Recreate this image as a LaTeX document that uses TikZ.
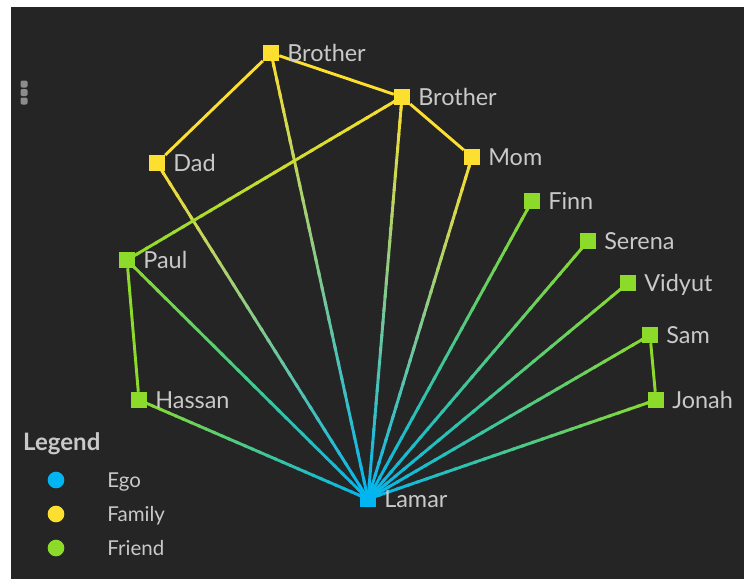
\documentclass[tikz,border=0pt]{standalone}
\usepackage{fontspec}
\setmainfont{Lato}
\usepackage{tikz}
\usetikzlibrary{positioning,calc}
\definecolor{panel}{HTML}{252525}
\definecolor{egoblue}{HTML}{00B5F1}
\definecolor{famyel}{HTML}{FDDF2F}
\definecolor{frdgreen}{HTML}{8CDB2B}
\definecolor{txt}{HTML}{C9C9C9}
\definecolor{knob}{HTML}{8C8C8C}
\pgfdeclarelayer{back}
\pgfdeclarelayer{under}
\pgfsetlayers{back,under,main}

% edge that fades from one colour to the other
\newcommand{\gradedge}[4]{%
  \foreach \k in {1,...,30}{%
    \pgfmathsetmacro{\ta}{(\k-1)/30}%
    \pgfmathsetmacro{\tb}{min(\k/30+0.01,1)}%
    \pgfmathsetmacro{\pc}{100-100*(\k-0.5)/30}%
    \draw[edge,color=#3!\pc!#4] ($(#1)!\ta!(#2)$) -- ($(#1)!\tb!(#2)$);
  }%
}

\begin{document}
\begin{tikzpicture}[
  x=0.03cm,y=-0.03cm,
  font=\fontsize{20}{24}\selectfont,
  node distance=0.2cm,
  sq/.style={rectangle,minimum size=0.48cm,inner sep=0pt},
  egosq/.style={sq,fill=egoblue},
  famsq/.style={sq,fill=famyel},
  frdsq/.style={sq,fill=frdgreen},
  lbl/.style={text=txt,inner sep=1pt,text depth=0pt},
  keylbl/.style={lbl,font=\fontsize{17.5}{21}\selectfont},
  edge/.style={line width=2.5pt,line cap=butt},
  keydot/.style={circle,minimum size=0.5cm,inner sep=0pt},
  lgdtitle/.style={text=txt,font=\fontsize{20.5}{24}\selectfont\bfseries,inner sep=0pt,text depth=0pt}
]
\useasboundingbox (0,0) rectangle (744,579);
\begin{pgfonlayer}{back}
  \fill[panel] (11,7) rectangle (744,579);
\end{pgfonlayer}

% three-dot menu
\foreach \yy in {80.5,89,97.5}
  \fill[knob,rounded corners=1.2pt] (20.5,\yy) rectangle ++(7,7);

% nodes
\node[egosq] (lamar)  at (368,499) {};
\node[famsq] (broA)   at (271,53)  {};
\node[famsq] (broB)   at (402,97)  {};
\node[famsq] (dad)    at (157,163) {};
\node[famsq] (mom)    at (472,157) {};
\node[frdsq] (finn)   at (532,201) {};
\node[frdsq] (serena) at (588,241) {};
\node[frdsq] (vidyut) at (628,283) {};
\node[frdsq] (sam)    at (650,335) {};
\node[frdsq] (jonah)  at (656,400) {};
\node[frdsq] (paul)   at (127,260) {};
\node[frdsq] (hassan) at (139,400) {};

% labels
\node[lbl,right=of lamar]  (lamarL)  {Lamar};
\node[lbl,right=of broA]   (broAL)   {Brother};
\node[lbl,right=of broB]   (broBL)   {Brother};
\node[lbl,right=of dad]    (dadL)    {Dad};
\node[lbl,right=of mom]    (momL)    {Mom};
\node[lbl,right=of finn]   (finnL)   {Finn};
\node[lbl,right=of serena] (serenaL) {Serena};
\node[lbl,right=of vidyut] (vidyutL) {Vidyut};
\node[lbl,right=of sam]    (samL)    {Sam};
\node[lbl,right=of jonah]  (jonahL)  {Jonah};
\node[lbl,right=of paul]   (paulL)   {Paul};
\node[lbl,right=of hassan] (hassanL) {Hassan};

% edges
\begin{pgfonlayer}{under}
  \foreach \f in {broA,broB,dad,mom}
    \gradedge{lamar}{\f}{egoblue}{famyel};
  \foreach \f in {finn,serena,vidyut,sam,jonah,paul,hassan}
    \gradedge{lamar}{\f}{egoblue}{frdgreen};
  \gradedge{paul}{broB}{frdgreen}{famyel};
  \draw[edge,draw=famyel] (dad) -- (broA) -- (broB) -- (mom);
  \draw[edge,draw=frdgreen] (paul) -- (hassan);
  \draw[edge,draw=frdgreen] (sam) -- (jonah);
\end{pgfonlayer}

% legend
\node[lgdtitle,anchor=west] (lgd) at (23,442) {Legend};
\node[keydot,fill=egoblue]  (kEgo) at (56,480) {};
\node[keydot,fill=famyel]   (kFam) at (56,514) {};
\node[keydot,fill=frdgreen] (kFrd) at (56,548) {};
\node[keylbl,anchor=west] (tEgo) at (106,480) {Ego};
\node[keylbl,anchor=west] (tFam) at (106,514) {Family};
\node[keylbl,anchor=west] (tFrd) at (106,548) {Friend};
\end{tikzpicture}
\end{document}
